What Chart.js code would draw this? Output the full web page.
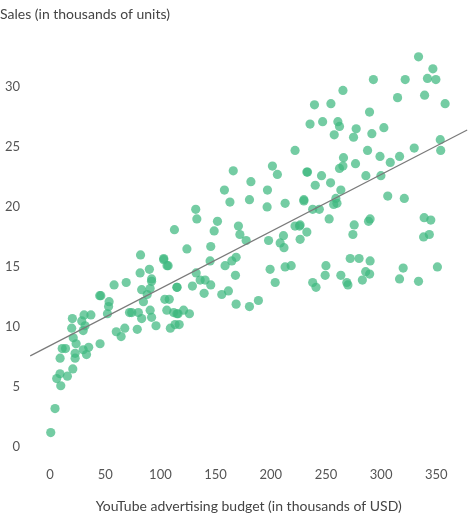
<!DOCTYPE html>
<html>
<head>
<meta charset="utf-8">
<script src="https://cdn.jsdelivr.net/npm/chart.js@4"></script>
<style>
  html, body { margin: 0; padding: 0; background: #fff; }
  #wrap { width: 474px; height: 523px; }
</style>
</head>
<body>
<div id="wrap"><canvas id="chart"></canvas></div>
<script>
// YouTube budget (thousands USD) vs sales (thousands of units)
const budget = [
  0.6, 4.5, 9.7, 6.0, 9, 15.7, 20.6, 22.7, 22.7, 9.1, 11, 14, 33, 30, 35, 23.6, 21, 45.3, 19.6, 20.2,
  30, 31.7, 28.7, 30.8, 37, 52, 53, 53.5, 45, 46, 58, 69, 60, 64.4, 67.7, 72, 74, 80, 83, 79,
  90.7, 92, 96, 109, 84.6, 88, 90.7, 92, 92, 83, 81.6, 90, 82, 103, 107, 104, 108, 115, 112, 115, 116,
  222, 166, 201.5, 206, 232.7, 182, 158, 163, 180.7, 197, 196.7, 213, 230, 132, 133, 151.7, 112.7,
  148.7, 170.7, 172, 177.7, 198, 208.5, 212, 211.5, 222, 226, 232.7, 226.6, 124, 145.6, 103, 106,
  145, 158.6, 164.7, 168.6, 132.4, 136, 140.5, 145.6, 115, 129, 139.6, 155.6, 161.6, 168.6, 180.7,
  188.8, 105.8, 121, 126.3, 113.3, 117, 199.4, 204, 213, 218.5, 168,
  333.9, 346.9, 342, 349.6, 293, 321.8, 265.4, 314.9, 339.4, 358, 239.6, 254.5, 289.5, 235.6, 247,
  260.8, 262.3, 277.4, 257.5, 275, 291.6, 302.5, 353.6, 354, 330, 287.7, 299, 316.7, 308.3, 265.9,
  262.3, 265.4, 276.8, 233.3, 246, 240.3, 254.2, 263.5, 286.2, 299.8, 230, 259, 257, 260, 238, 244,
  306, 321, 226.6, 252.9, 275.6, 274.4, 288.6, 290, 339, 345, 338.5, 343.7, 272, 280, 290, 250,
  249.3, 263.5, 286, 289.6, 283, 238, 241, 268.9, 269.9, 320, 316.7, 333.9, 351
];
const sales = [
  1.2, 3.2, 5.1, 5.7, 6.1, 5.9, 6.5, 7.4, 7.8, 7.4, 8.2, 8.2, 7.7, 8.1, 8.3, 8.6, 9.1, 8.6, 9.9, 10.7,
  9.7, 10.1, 10.5, 11.0, 11.0, 11.1, 11.7, 12.1, 12.6, 12.6, 13.5, 13.7, 9.6, 9.2, 9.9, 11.2, 11.2, 11.2, 10.7, 9.8,
  11.4, 10.8, 10.1, 9.9, 12.1, 12.7, 13.2, 14.0, 13.8, 13.1, 14.5, 14.8, 16.0, 15.7, 15.1, 12.3, 12.3, 13.3, 11.2, 11.1, 11.1,
  24.7, 23.0, 23.4, 22.7, 22.9, 22.1, 21.4, 20.4, 20.6, 21.4, 20.0, 20.3, 20.6, 19.8, 19.0, 18.8, 18.1,
  18.0, 18.4, 17.7, 17.2, 17.2, 17.0, 16.6, 17.6, 18.4, 18.4, 17.9, 17.3, 16.5, 16.7, 15.6, 15.1,
  15.5, 15.1, 15.5, 15.8, 14.5, 13.9, 13.9, 13.5, 13.3, 13.4, 12.8, 12.7, 13.0, 11.9, 11.7,
  12.2, 11.4, 11.4, 11.1, 10.2, 10.2, 14.8, 13.7, 15.0, 15.1, 14.3,
  32.5, 31.5, 30.7, 30.6, 30.6, 30.6, 29.7, 29.1, 29.3, 28.6, 28.5, 28.6, 27.9, 26.9, 27.1,
  27.1, 26.7, 26.5, 26.0, 25.8, 26.1, 26.6, 25.6, 24.7, 24.9, 24.7, 24.2, 24.2, 23.7, 24.1,
  23.2, 23.4, 23.6, 22.9, 22.6, 21.8, 22.0, 21.4, 22.6, 22.6, 20.5, 20.7, 20.2, 20.3, 19.8, 19.8,
  20.9, 20.7, 18.5, 19.0, 18.5, 17.7, 18.8, 19.0, 19.1, 18.9, 17.5, 17.7, 15.7, 15.7, 15.5, 15.1,
  14.3, 14.3, 14.6, 14.4, 13.9, 13.7, 13.3, 13.7, 13.5, 14.9, 14.0, 13.8, 15.0
];
// fitted line: sales = 8.44 + 0.0475 * budget
const fitX = [-18, 378];
const fitY = [7.59, 26.4];

const xTicks = [0, 50, 100, 150, 200, 250, 300, 350];
const yTicks = [0, 5, 10, 15, 20, 25, 30];

const FONT = "Lato, 'Open Sans', sans-serif";
Chart.defaults.font.family = FONT;

new Chart(document.getElementById("chart"), {
  type: "scatter",
  data: {
    datasets: [
      {
        type: "line",
        data: fitX.map((x, i) => ({ x, y: fitY[i] })),
        borderColor: "#7a7a7a",
        borderWidth: 1.2,
        pointRadius: 0,
        order: 0
      },
      {
        data: budget.map((x, i) => ({ x, y: sales[i] })),
        backgroundColor: "rgba(62, 184, 128, 0.72)",
        borderWidth: 0,
        pointRadius: 4.6,
        order: 1
      }
    ]
  },
  options: {
    responsive: true,
    maintainAspectRatio: false,
    animation: false,
    layout: { padding: { top: 4, right: 4, left: 0, bottom: 4 } },
    plugins: {
      legend: { display: false },
      tooltip: { enabled: false },
      title: {
        display: true,
        text: "Sales (in thousands of units)",
        align: "start",
        color: "#444",
        font: { size: 14, weight: "normal" },
        padding: { top: 2, bottom: 22 }
      }
    },
    scales: {
      x: {
        type: "linear",
        min: -20,
        max: 380,
        afterBuildTicks: (s) => { s.ticks = xTicks.map(v => ({ value: v })); },
        grid: { display: false, drawTicks: false },
        border: { display: false },
        ticks: { color: "#555", font: { size: 13 }, padding: 10 },
        title: {
          display: true,
          text: "YouTube advertising budget (in thousands of USD)",
          color: "#444",
          font: { size: 14 },
          padding: { top: 6 }
        }
      },
      y: {
        min: -0.8,
        max: 33.5,
        afterBuildTicks: (s) => { s.ticks = yTicks.map(v => ({ value: v })); },
        afterFit: (s) => { s.width = 28; },
        grid: { display: false, drawTicks: false },
        border: { display: false },
        ticks: { color: "#555", font: { size: 13 }, padding: 8 }
      }
    }
  }
});
</script>
</body>
</html>
